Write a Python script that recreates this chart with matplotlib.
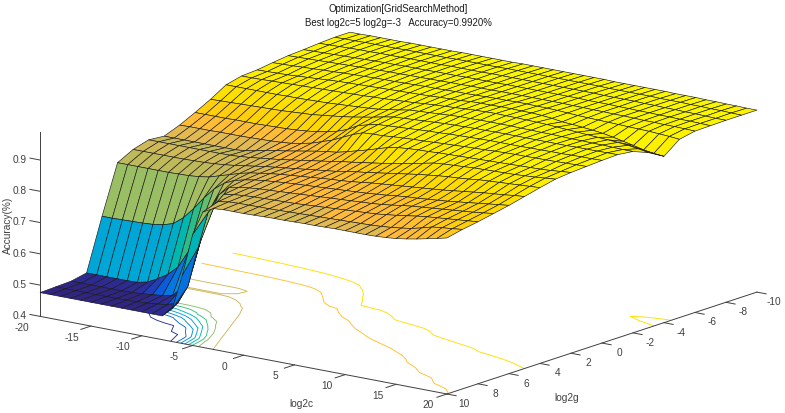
import numpy as np
import matplotlib
matplotlib.use('Agg')
import matplotlib.pyplot as plt
from matplotlib.colors import LinearSegmentedColormap, Normalize
from mpl_toolkits.mplot3d import proj3d

plt.rcParams['font.family'] = ['Liberation Sans', 'DejaVu Sans']

# grid search axes
log2c = list(range(-20, 21))
log2g = list(range(-10, 11))

# accuracy per log2g row, each row runs log2c = -20 .. 20
g_m10 = [.983,.983,.984,.984,.984,.984,.985,.985,.985,.985,.985, .986,.986,.986,.986,.986,.986,.987,.987,.987,.987, .987,.987,.987,.987,.987,.986,.986,.986,.986,.986, .986,.985,.985,.985,.984,.984,.983,.983,.982,.982]
g_m9 = [.983,.984,.984,.985,.985,.985,.985,.986,.986,.986,.986, .986,.987,.987,.987,.987,.987,.988,.988,.988,.988, .988,.988,.988,.988,.988,.988,.987,.987,.987,.987, .987,.986,.986,.986,.985,.985,.984,.984,.983,.982]
g_m8 = [.98,.981,.982,.983,.984,.984,.985,.985,.985,.986,.986, .986,.986,.987,.987,.987,.987,.988,.988,.988,.988, .988,.988,.988,.988,.988,.988,.988,.987,.987,.987, .987,.986,.986,.985,.985,.984,.984,.983,.982,.982]
g_m7 = [.976,.977,.978,.979,.98,.981,.982,.983,.984,.984,.985, .985,.985,.986,.986,.986,.987,.987,.987,.987,.988, .988,.988,.988,.988,.988,.988,.988,.987,.987,.987, .986,.986,.985,.985,.984,.984,.983,.983,.982,.981]
g_m6 = [.973,.974,.975,.976,.977,.978,.979,.98,.981,.982,.983, .983,.984,.984,.985,.985,.986,.986,.987,.987,.987, .988,.988,.988,.988,.988,.988,.988,.987,.987,.986, .986,.985,.985,.984,.983,.983,.982,.982,.981,.98]
g_m5 = [.967,.968,.969,.971,.972,.974,.975,.977,.978,.979,.98, .981,.981,.982,.983,.984,.984,.985,.986,.986,.987, .988,.989,.989,.99,.99,.989,.989,.988,.986,.984, .983,.982,.981,.98,.979,.978,.977,.975,.973,.97]
g_m4 = [.96,.961,.962,.963,.965,.967,.969,.971,.973,.974,.975, .976,.977,.978,.979,.98,.981,.982,.984,.985,.986, .989,.99,.99,.991,.991,.99,.99,.988,.985,.98, .978,.975,.972,.968,.962,.955,.948,.94,.935,.932]
g_m3 = [.957,.957,.958,.959,.96,.961,.962,.963,.964,.965,.966, .967,.968,.97,.971,.973,.975,.977,.98,.982,.984, .986,.988,.99,.991,.992,.991,.991,.99,.989,.988, .986,.984,.982,.98,.978,.976,.974,.971,.966,.96]
g_m2 = [.945,.945,.945,.945,.945,.945,.946,.946,.947,.948,.949, .951,.953,.955,.957,.96,.965,.97,.976,.978,.98, .982,.984,.986,.986,.987,.987,.987,.987,.986,.986, .985,.985,.984,.983,.983,.982,.982,.981,.98,.98]
g_m1 = [.915,.916,.917,.918,.919,.92,.921,.922,.924,.926,.928, .932,.936,.94,.945,.951,.957,.964,.97,.972,.974, .976,.978,.98,.981,.982,.983,.983,.984,.984,.984, .984,.984,.984,.984,.984,.985,.985,.985,.986,.986]
g_0 = [.889,.889,.889,.889,.89,.89,.89,.891,.892,.893,.895, .898,.902,.908,.916,.928,.946,.955,.962,.964,.966, .968,.97,.972,.973,.975,.976,.977,.978,.979,.979, .979,.979,.98,.98,.981,.981,.982,.983,.983,.984]
g_1 = [.865,.866,.866,.866,.867,.867,.867,.868,.869,.87,.872, .875,.881,.888,.899,.91,.925,.94,.952,.954,.955, .958,.96,.962,.963,.965,.967,.968,.97,.971,.972, .974,.975,.976,.976,.977,.977,.978,.979,.98,.981]
g_2 = [.846,.846,.846,.846,.846,.846,.846,.846,.849,.855,.862, .868,.873,.879,.885,.891,.896,.9,.908,.917,.926, .936,.946,.952,.955,.957,.958,.96,.961,.962,.963, .964,.965,.966,.967,.968,.969,.97,.972,.975,.978]
g_3 = [.8505,.8505,.8505,.8505,.8505,.8505,.8505,.8505,.851,.853,.856, .86,.864,.868,.873,.878,.883,.888,.893,.899,.903, .908,.913,.918,.924,.93,.936,.943,.95,.953,.955, .957,.959,.96,.961,.962,.963,.965,.967,.97,.973]
g_4 = [.836,.836,.836,.836,.836,.836,.837,.838,.84,.843,.847, .852,.857,.862,.866,.87,.874,.878,.882,.886,.89, .896,.901,.905,.91,.915,.92,.925,.93,.934,.938, .941,.943,.946,.95,.952,.954,.956,.958,.96,.962]
g_5 = [.81,.81,.81,.81,.81,.81,.811,.812,.815,.82,.83, .84,.85,.858,.863,.868,.872,.875,.878,.881,.884, .887,.889,.892,.896,.9,.903,.906,.909,.912,.915, .918,.921,.925,.929,.933,.937,.94,.943,.947,.95]
g_6 = [.655,.655,.656,.657,.658,.66,.665,.675,.70,.735,.775, .81,.835,.85,.858,.864,.868,.871,.874,.876,.878, .88,.882,.884,.886,.888,.89,.893,.896,.9,.903, .905,.908,.911,.914,.918,.922,.926,.93,.934,.938]
g_7 = [.49,.49,.49,.49,.49,.491,.498,.515,.535,.565,.62, .69,.76,.82,.85,.857,.861,.864,.866,.868,.87, .872,.874,.876,.878,.88,.882,.884,.886,.889,.893, .898,.902,.905,.908,.911,.914,.917,.92,.924,.928]
g_8 = [.48,.48,.48,.48,.48,.48,.481,.483,.486,.49,.497, .53,.60,.72,.80,.85,.856,.859,.861,.862,.863, .864,.865,.867,.869,.871,.873,.875,.877,.879,.881, .885,.889,.894,.899,.903,.906,.909,.912,.915,.918]
g_9 = [.478,.478,.478,.478,.478,.478,.478,.479,.48,.482,.485, .49,.50,.56,.69,.81,.85,.855,.857,.857,.858, .858,.859,.86,.861,.862,.863,.864,.865,.866,.867, .868,.87,.873,.877,.882,.89,.899,.903,.906,.91]
g_10 = [.476,.476,.476,.476,.476,.476,.476,.476,.476,.476,.476, .476,.476,.505,.62,.755,.833,.85,.853,.853,.853, .854,.855,.856,.856,.857,.858,.858,.859,.86,.86, .86,.86,.861,.863,.866,.871,.877,.884,.891,.899]

accuracy = [g_m10, g_m9, g_m8, g_m7, g_m6, g_m5, g_m4, g_m3, g_m2, g_m1, g_0,
            g_1, g_2, g_3, g_4, g_5, g_6, g_7, g_8, g_9, g_10]

contour_levels = [.5, .55, .6, .65, .7, .75, .8, .85, .9, .95]
c_ticks = [-20, -15, -10, -5, 0, 5, 10, 15, 20]
g_ticks = [-10, -8, -6, -4, -2, 0, 2, 4, 6, 8, 10]
z_ticks = [.4, .5, .6, .7, .8, .9]

ZMIN, ZMAX = .4, .99
AXIS_COLOR = '#404040'
TEXT_COLOR = '#404040'
FONT_SIZE = 7.3
TITLE_SIZE = 6.95

# colours, as accuracy -> rgb
color_stops = [(.476, (48, 38, 130)), (.50, (40, 50, 170)), (.53, (10, 90, 220)),
               (.58, (5, 130, 225)), (.655, (0, 165, 215)), (.70, (0, 185, 170)),
               (.76, (70, 190, 120)), (.81, (150, 190, 100)), (.84, (195, 185, 90)),
               (.868, (222, 185, 85)), (.876, (255, 185, 60)), (.90, (255, 190, 50)),
               (.915, (255, 205, 15)), (.945, (255, 220, 0)), (.975, (252, 240, 0)),
               (.992, (250, 245, 0))]
norm = Normalize(.476, .992)
cmap = LinearSegmentedColormap.from_list(
    'acc', [(norm(z), tuple(v / 255 for v in rgb)) for z, rgb in color_stops], N=64)

C, G = np.meshgrid(log2c, log2g)
Z = np.array(accuracy)

fig = plt.figure(figsize=(7.85, 4.14), dpi=100)
# axes bigger than the figure so nothing gets clipped at its edge
side = 900
ax = fig.add_axes([(398.5 - .5135 * side) / 785, (201 - .5135 * side) / 414, side / 785, side / 414],
                  projection='3d', computed_zorder=False, proj_type='ortho')
ax.view_init(elev=14.5, azim=-52.7)
ax.set_xlim(-20, 20, view_margin=0)
ax.set_ylim(10, -10, view_margin=0)
ax.set_zlim(ZMIN, ZMAX, view_margin=0)
ax.set_box_aspect((511.6, 511.6, 190.6), zoom=.8069)
ax.set_axis_off()

# contours on the floor, like meshc
ax.contour(C, G, Z, levels=contour_levels, colors=[cmap(norm(v)) for v in contour_levels],
           offset=ZMIN, zdir='z', linewidths=.65, zorder=1)

ax.plot_surface(C, G, Z, facecolors=cmap(norm(Z)), rstride=1, cstride=1, shade=False,
                edgecolor='#1a1a1a', linewidth=.45, antialiased=True, zorder=3)


def label(x, y, z, s, **kw):
    # plain 2d text at the projected spot of a data point
    px, py, _ = proj3d.proj_transform(x, y, z, ax.get_proj())
    ax.text2D(px, py, s, transform=ax.transData, va='center', fontsize=FONT_SIZE, color=TEXT_COLOR, **kw)


# axis lines and ticks by hand, the default 3d axis can't sit like matlab's
ax.plot([-20, 20], [10, 10], [ZMIN, ZMIN], color=AXIS_COLOR, lw=.7, zorder=2)
ax.plot([20, 20], [10, -10], [ZMIN, ZMIN], color=AXIS_COLOR, lw=.7, zorder=2)
ax.plot([-20, -20], [10, 10], [ZMIN, ZMAX], color=AXIS_COLOR, lw=.7, zorder=2)

for c in c_ticks:
    if c != -20:
        ax.plot([c, c], [10, 10.65], [ZMIN, ZMIN], color=AXIS_COLOR, lw=.7, zorder=2)
    label(c, 11.2, ZMIN - .014, str(c), ha='center')
for g in g_ticks:
    ax.plot([20, 20.9], [g, g], [ZMIN, ZMIN], color=AXIS_COLOR, lw=.7, zorder=2)
    label(21.7, g, ZMIN - .018, str(g), ha='center')
for z in z_ticks:
    ax.plot([-21, -20], [10, 10], [z, z], color=AXIS_COLOR, lw=.7, zorder=2)
    label(-21.3, 10, z - .004, '%.1f' % z, ha='right')

fig.text(301.7 / 785, 1 - 404.3 / 414, 'log2c', ha='center', va='center', fontsize=FONT_SIZE, color=TEXT_COLOR)
fig.text(567 / 785, 1 - 398 / 414, 'log2g', ha='center', va='center', fontsize=FONT_SIZE, color=TEXT_COLOR)
fig.text(8 / 785, 1 - 225 / 414, 'Accuracy(%)', ha='center', va='center', rotation=90,
         fontsize=FONT_SIZE, color=TEXT_COLOR)
fig.text(398 / 785, 1 - 9.3 / 414, 'Optimization[GridSearchMethod]', ha='center', va='center',
         fontsize=TITLE_SIZE, color='#1a1a1a')
fig.text(398 / 785, 1 - 22.7 / 414, 'Best log2c=5 log2g=-3   Accuracy=0.9920%', ha='center', va='center',
         fontsize=TITLE_SIZE, color='#1a1a1a')

fig.savefig('out.png', dpi=100)
